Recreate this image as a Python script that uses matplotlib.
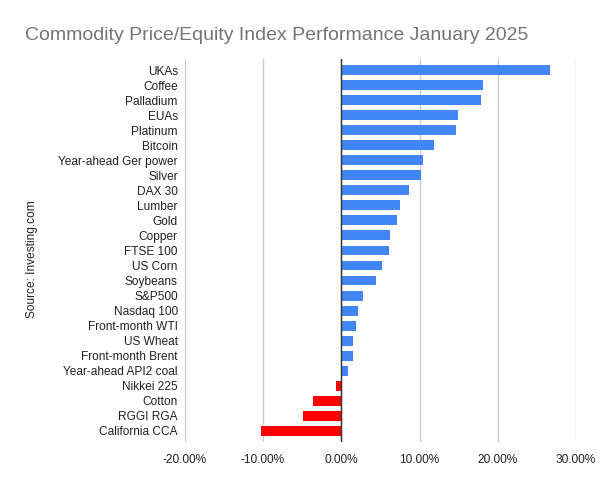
import matplotlib
matplotlib.use("Agg")
import matplotlib.pyplot as plt
from matplotlib.ticker import FuncFormatter

plt.rcParams['font.family'] = ['Liberation Sans', 'DejaVu Sans']

categories = ["UKAs", "Coffee", "Palladium", "EUAs", "Platinum", "Bitcoin",
              "Year-ahead Ger power", "Silver", "DAX 30", "Lumber", "Gold",
              "Copper", "FTSE 100", "US Corn", "Soybeans", "S&P500",
              "Nasdaq 100", "Front-month WTI", "US Wheat", "Front-month Brent",
              "Year-ahead API2 coal", "Nikkei 225", "Cotton", "RGGI RGA",
              "California CCA"]
changes = [26.7, 18.1, 17.8, 14.9, 14.6, 11.9,
           10.5, 10.2, 8.7, 7.5, 7.15,
           6.25, 6.1, 5.2, 4.4, 2.75,
           2.2, 1.85, 1.45, 1.45,
           0.8, -0.7, -3.6, -4.9,
           -10.3]
x_ticks = [-20, -10, 0, 10, 20, 30]

colors = ['#4285F4' if v >= 0 else '#FF0000' for v in changes]
ypos = list(range(len(categories)))[::-1]

fig = plt.figure(figsize=(6, 4.78), dpi=100)
ax = fig.add_axes([0.308, 0.076, 0.652, 0.800])

ax.barh(ypos, changes, height=0.66, color=colors, zorder=3)
ax.axvline(0, color='#333333', linewidth=1, zorder=4)

ax.set_xlim(-20, 30)
ax.set_ylim(-0.72, len(categories) - 0.28)
ax.set_xticks(x_ticks)
ax.xaxis.set_major_formatter(FuncFormatter(lambda v, p: f"{v:.2f}%"))
ax.set_yticks(ypos)
ax.set_yticklabels(categories)
ax.grid(axis='x', color='#cccccc', linewidth=1, zorder=0)
for s in ax.spines.values():
    s.set_visible(False)
ax.tick_params(axis='both', length=0, labelsize=8.6, colors='#222222')
ax.tick_params(axis='y', pad=5)
ax.tick_params(axis='x', pad=9)

fig.text(0.042, 0.925, "Commodity Price/Equity Index Performance January 2025",
         fontsize=14, color='#757575', ha='left', va='center')
fig.text(0.053, 0.458, "Source: Investing.com", rotation=90, fontsize=8.6,
         color='#222222', ha='center', va='center')

fig.savefig("out.png", dpi=100)
